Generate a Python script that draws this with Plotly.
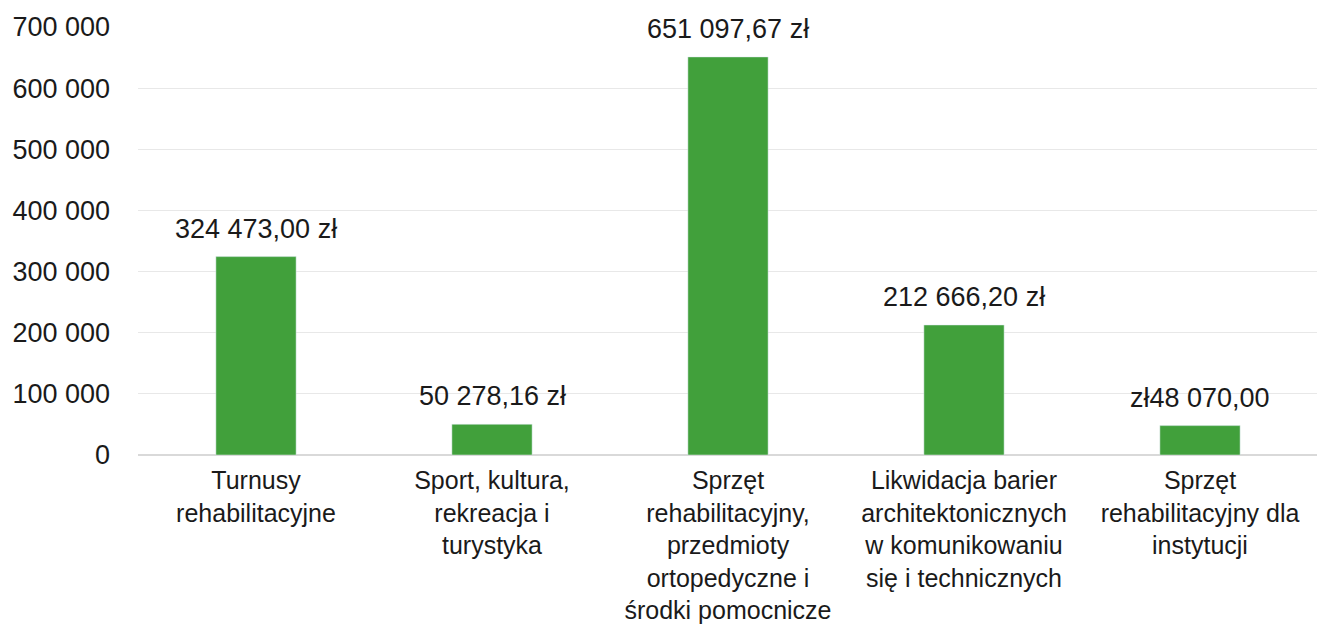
import plotly.graph_objects as go

categories = [
    "Turnusy<br>rehabilitacyjne",
    "Sport, kultura,<br>rekreacja i<br>turystyka",
    "Sprzęt<br>rehabilitacyjny,<br>przedmioty<br>ortopedyczne i<br>środki pomocnicze",
    "Likwidacja barier<br>architektonicznych<br>w komunikowaniu<br>się i technicznych",
    "Sprzęt<br>rehabilitacyjny dla<br>instytucji",
]
values = [324473.00, 50278.16, 651097.67, 212666.20, 48070.00]
value_labels = ["324 473,00 zł", "50 278,16 zł", "651 097,67 zł", "212 666,20 zł", "zł48 070,00"]
tick_vals = [0, 100000, 200000, 300000, 400000, 500000, 600000, 700000]
tick_text = ["0", "100 000", "200 000", "300 000", "400 000", "500 000", "600 000", "700 000"]

fig = go.Figure(
    go.Bar(
        x=categories,
        y=values,
        marker=dict(color="#41a03b"),
        width=0.34,
    )
)

for c, v, t in zip(categories, values, value_labels):
    fig.add_annotation(
        x=c, y=v, text=t, showarrow=False,
        yanchor="bottom", yshift=11,
        font=dict(size=27, color="#1a1a1a"),
    )

fig.update_layout(
    width=1325,
    height=625,
    margin=dict(l=130, r=15, t=19, b=178),
    plot_bgcolor="white",
    paper_bgcolor="white",
    font=dict(family="Liberation Sans, Arial, sans-serif", size=25, color="#1a1a1a"),
    showlegend=False,
)
fig.update_yaxes(
    range=[0, 700000],
    tickvals=tick_vals,
    ticktext=tick_text,
    showgrid=True,
    gridcolor="#e8e8e8",
    gridwidth=1,
    zeroline=True,
    zerolinecolor="#d9d9d9",
    ticks="",
    ticklabelstandoff=27,
    tickfont=dict(size=27),
    automargin=False,
)
fig.update_xaxes(
    showgrid=False,
    ticks="",
    tickfont=dict(size=25),
    ticklabelstandoff=8,
    automargin=False,
)

fig.write_html("out.html")
